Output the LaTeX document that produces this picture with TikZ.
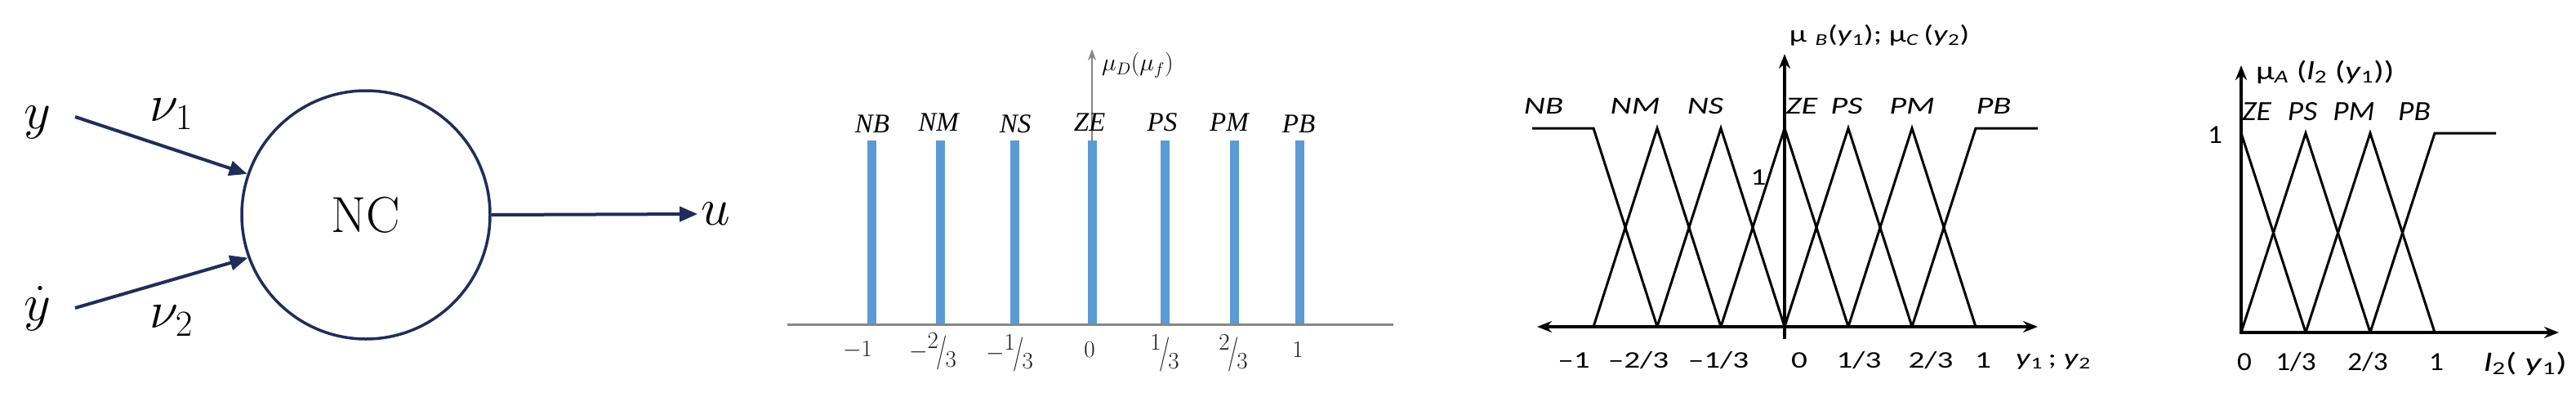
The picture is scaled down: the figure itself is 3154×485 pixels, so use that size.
\RequirePackage{fix-cm}
\documentclass[tikz,border=0pt]{standalone}
\usepackage{fontspec}
\newfontfamily\calib{Carlito}
\newfontfamily\tms{Liberation Serif}
\usetikzlibrary{arrows.meta}
\definecolor{navy}{RGB}{30,45,90}
\definecolor{axgray}{RGB}{135,135,135}
\definecolor{barblue}{RGB}{91,155,213}
\newcommand{\myfrac}[2]{\raisebox{0.42em}{#1}\kern-0.08em\raisebox{-0.12em}{\scalebox{1}[1.45]{/}}\kern-0.08em\raisebox{-0.38em}{#2}}
\newcommand{\wide}[2]{\scalebox{#1}[1]{#2}}
\tikzset{
  lbl/.style={inner sep=0pt, outer sep=0pt},
  big/.style={lbl, font=\fontsize{64}{70}\selectfont},
  navyarrow/.style={draw=navy, line width=4pt, -{Triangle[length=22pt,width=18pt]}},
  mlbl/.style={lbl, font=\tms\itshape\fontsize{33}{36}\selectfont},
  mtick/.style={lbl, font=\fontsize{29}{32}\selectfont, text=black!90},
  cl/.style={lbl, font=\calib\itshape\fontsize{30}{34}\selectfont},
  ct/.style={lbl, font=\calib\fontsize{29}{32}\selectfont},
  cl4/.style={lbl, font=\calib\itshape\fontsize{34}{38}\selectfont},
  ct4/.style={lbl, font=\calib\fontsize{32}{35}\selectfont},
  mf/.style={line width=3pt, line join=miter},
  blkaxis/.style={line width=3.5pt},
  bar/.style={fill=barblue}
}
\begin{document}
\begin{tikzpicture}[x=1pt,y=-1pt]
\useasboundingbox[fill=white] (0,0) rectangle (3154,485);

% ---------- Panel 1 ----------
\node[draw=navy, line width=3.5pt, circle, minimum size=304pt, inner sep=0pt,
      font=\fontsize{62}{68}\selectfont] (nc) at (448,263) {NC};
\node[big] (y) at (46,150) {$y$};
\node[big] (yd) at (46,378) {$\dot{y}$};
\node[big] (v1) at (210,140) {$\nu_1$};
\node[big] (v2) at (210,393) {$\nu_2$};
\node[big] (u) at (876,262) {$u$};
\coordinate (ys) at (92,143);
\coordinate (yds) at (92,377);
\draw[navyarrow] (ys) -- (nc.161.5);
\draw[navyarrow] (yds) -- (nc.200.5);
\draw[navyarrow] (nc.east) -- ([xshift=-4pt]u.west);

% ---------- Panel 2 ----------
\draw[axgray, line width=3pt] (964,397) -- (1706,397);
\draw[axgray, line width=2.5pt, -{Stealth[length=14pt,width=10pt]}] (1337,397) -- (1337,60);
\foreach \x in {1067,1151,1242,1337,1426,1511,1591}{
  \fill[bar] (\x-5.5,172) rectangle (\x+5.5,396);
}
\node[lbl, font=\fontsize{30}{34}\selectfont, anchor=west] (muD) at (1349,80) {$\mu_D(\mu_f)$};
\node[mlbl] (b1) at (1068,152) {NB};
\node[mlbl] (b2) at (1149,150) {NM};
\node[mlbl] (b3) at (1243,152) {NS};
\node[mlbl] (b4) at (1334,150) {ZE};
\node[mlbl] (b5) at (1423,150) {PS};
\node[mlbl] (b6) at (1505,150) {PM};
\node[mlbl] (b7) at (1590,152) {PB};
\node[mtick] (t1) at (1050,428) {$-$1};
\node[mtick] (t2) at (1142,430) {$-$\myfrac{2}{3}};
\node[mtick] (t3) at (1236,432) {$-$\myfrac{1}{3}};
\node[mtick] (t4) at (1334,428) {0};
\node[mtick] (t5) at (1426,432) {\myfrac{1}{3}};
\node[mtick] (t6) at (1510,432) {\myfrac{2}{3}};
\node[mtick] (t7) at (1589,428) {1};

% ---------- Panel 3 ----------
\draw[blkaxis, {Stealth[length=18pt,width=14pt]}-{Stealth[length=18pt,width=14pt]}] (1882,400) -- (2495,400);
\draw[blkaxis, -{Stealth[length=18pt,width=14pt]}] (2185,415) -- (2185,66);
\draw[mf] (1876,157) -- (1951,157) -- (2029,400);
\draw[mf] (1951,400) -- (2029,157) -- (2107,400);
\draw[mf] (2029,400) -- (2107,157) -- (2185,400);
\draw[mf] (2107,400) -- (2185,157) -- (2263,400);
\draw[mf] (2185,400) -- (2263,157) -- (2341,400);
\draw[mf] (2263,400) -- (2341,157) -- (2419,400);
\draw[mf] (2341,400) -- (2419,157) -- (2495,157);
\node[cl] (c1) at (1890,130) {\wide{1.35}{NB}};
\node[cl] (c2) at (2002,130) {\wide{1.35}{NM}};
\node[cl] (c3) at (2088,130) {\wide{1.35}{NS}};
\node[cl] (c4) at (2206,130) {\wide{1.35}{ZE}};
\node[cl] (c5) at (2261,130) {\wide{1.35}{PS}};
\node[cl] (c6) at (2341,130) {\wide{1.35}{PM}};
\node[cl] (c7) at (2441,130) {\wide{1.35}{PB}};
\node[ct] (one3) at (2153,217) {\wide{1.3}{1}};
\node[ct] (d1) at (1927,441) {\wide{1.35}{–1}};
\node[ct] (d2) at (2006,441) {\wide{1.35}{–2/3}};
\node[ct] (d3) at (2104,441) {\wide{1.35}{–1/3}};
\node[ct] (d4) at (2203,441) {\wide{1.35}{0}};
\node[ct] (d5) at (2276,441) {\wide{1.35}{1/3}};
\node[ct] (d6) at (2364,441) {\wide{1.35}{2/3}};
\node[ct] (d7) at (2428,441) {\wide{1.35}{1}};
\node[ct] (d8) at (2514,443) {\wide{1.35}{\textit{y}\textsubscript{1}\,; \textit{y}\textsubscript{2}}};
\node[ct] (tit3) at (2301,43) {\wide{1.33}{µ\;\textsubscript{\itshape B}(\textit{y}\textsubscript{1}); µ\textsubscript{\itshape C}\,(\textit{y}\textsubscript{2})}};

% ---------- Panel 4 ----------
\draw[blkaxis, -{Stealth[length=18pt,width=14pt]}] (2744,409) -- (2744,80);
\draw[blkaxis, -{Stealth[length=18pt,width=14pt]}] (2742,407) -- (3133,407);
\draw[mf] (2744,163) -- (2823,407);
\draw[mf] (2744,407) -- (2823,163) -- (2902,407);
\draw[mf] (2823,407) -- (2902,163) -- (2981,407);
\draw[mf] (2902,407) -- (2981,163) -- (3056,163);
\node[cl4] (e1) at (2763,137) {\wide{1.1}{ZE}};
\node[cl4] (e2) at (2819,137) {\wide{1.1}{PS}};
\node[cl4] (e3) at (2882,137) {\wide{1.1}{PM}};
\node[cl4] (e4) at (2956,137) {\wide{1.1}{PB}};
\node[ct4] (one4) at (2712,165) {\wide{1.1}{1}};
\node[ct4] (f1) at (2748,443) {\wide{1.1}{0}};
\node[ct4] (f2) at (2811,443) {\wide{1.1}{1/3}};
\node[ct4] (f3) at (2899,443) {\wide{1.1}{2/3}};
\node[ct4] (f4) at (2983,443) {\wide{1.1}{1}};
\node[ct4] (f5) at (3092,445) {\wide{1.4}{\textit{l}\textsubscript{2}( \textit{y}\textsubscript{1})}};
\node[ct4, anchor=west] (tit4) at (2762,88) {\wide{1.3}{µ\textsubscript{\itshape A} (\textit{l}\textsubscript{2} (\textit{y}\textsubscript{1}))}};
\end{tikzpicture}
\end{document}
